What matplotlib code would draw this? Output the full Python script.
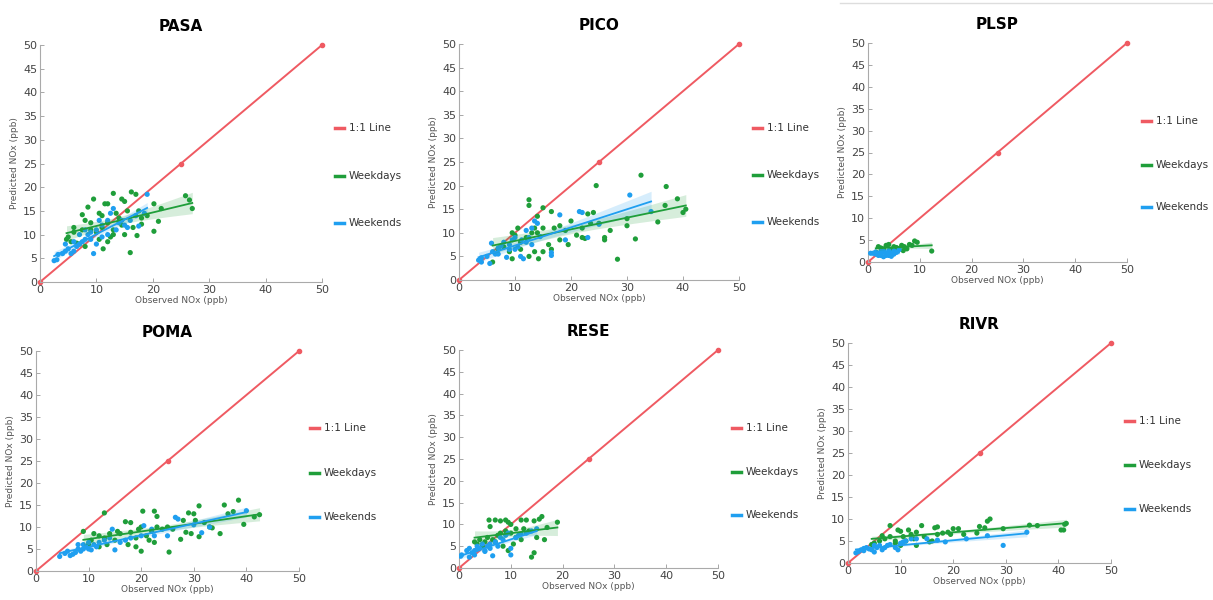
"""Observed vs predicted NOx at six sites, weekdays vs weekends."""

import matplotlib.pyplot as plt
import numpy as np
from matplotlib.lines import Line2D

RED = "#ef5a62"
GREEN = "#1f9e3a"
BLUE = "#1f9ff0"

sites = ["PASA", "PICO", "PLSP", "POMA", "RESE", "RIVR"]
legend_labels = ["1:1 Line", "Weekdays", "Weekends"]
ticks = [0, 10, 20, 30, 40, 50]
yticks = [0, 5, 10, 15, 20, 25, 30, 35, 40, 45, 50]
one_to_one = [0, 25, 50]

# (observed, predicted) pairs
pasa_weekdays = [
    (16.2, 19), (13, 18.7), (17, 18.5), (9.5, 17.5), (14.5, 17.5), (15, 17),
    (12, 16.5), (11.5, 16.5), (20.2, 16.5), (26.5, 17.3), (27, 15.5), (21.5, 15.5),
    (20.2, 10.7), (21, 12.8), (16, 6.2), (11.2, 7), (7.5, 14.2), (8.5, 15.8),
    (10.5, 14.5), (11, 14), (13.5, 14.5), (14, 13.5), (15.5, 15), (17.5, 15),
    (18, 13.5), (16.5, 11.5), (17.2, 9.8), (12.5, 9.5), (12, 8.5), (10.5, 9),
    (8, 7.5), (7, 8), (6, 10.5), (6, 11.5), (5, 9.5), (5.5, 8.5), (7.5, 11),
    (9, 11), (10, 10.5), (11, 11.5), (13, 11), (14.5, 12), (12, 12.5), (9, 12.5),
    (8, 13), (19, 14), (18, 12.2), (15, 10), (13, 10), (4.7, 9), (6.5, 8.2),
    (25.8, 18.2),
]
pasa_weekends = [
    (2.5, 4.5), (3, 4.7), (3.2, 5.8), (4, 6), (4.5, 6.5), (5, 7), (5.5, 6),
    (6, 6.5), (6.5, 7.5), (7, 8), (7.5, 8.5), (8, 9), (8.5, 10), (9, 9),
    (9.5, 6), (9, 10.5), (10, 11), (10.5, 13), (11, 12), (12, 13), (12.5, 14.5),
    (13, 15.5), (14, 12.5), (14.5, 13), (15, 12), (15.5, 11.5), (16, 13),
    (17, 14), (17.5, 11.8), (18.5, 14.5), (19, 18.5), (13.5, 11), (12, 10),
    (8, 11), (7, 10), (6, 8.5), (4.5, 8), (10, 8), (11, 9.5),
]
pico_weekdays = [
    (12.5, 17), (12.5, 15.8), (15, 15.3), (16.5, 14.5), (24.5, 20), (32.5, 22.2),
    (37, 19.8), (39, 17.2), (36.8, 15.8), (40.5, 15), (40, 14.3), (35.5, 12.3),
    (31.5, 8.7), (28.3, 4.4), (30, 13), (30, 11.5), (26, 9), (26, 8.5), (27, 10.5),
    (24, 14.3), (23, 14), (22, 11), (22, 9), (21, 9.5), (20, 12.5), (19, 10.5),
    (18, 11.5), (17, 11), (18, 8.5), (16.5, 6.5), (16, 7.5), (15, 6), (14.2, 4.5),
    (13.5, 6), (12.5, 5), (13, 10), (13.5, 11), (14, 10), (12, 9), (11, 8),
    (11, 6.5), (10.5, 11), (10, 9.5), (9.5, 10), (9, 6), (9.5, 4.5), (8, 7),
    (7, 6.5), (6, 3.8), (14, 13.5), (15, 11), (25, 12), (23.5, 12), (19.5, 7.5),
    (22.5, 8.8),
]
pico_weekends = [
    (3.5, 4.2), (4, 3.8), (4, 4.7), (5, 5), (5.5, 3.5), (5.8, 7.8), (6, 6),
    (6.5, 5.5), (7, 6.8), (7.5, 7.2), (8, 8), (8.5, 4.8), (9, 7.5), (9.5, 8.5),
    (10, 6.5), (10.5, 7), (11, 5), (11.5, 4.5), (11.2, 8.5), (12, 8), (12.5, 9),
    (13, 7.5), (13.5, 12.5), (14, 12), (14.5, 9.2), (16.5, 5.2), (16.5, 5.8),
    (18, 13.8), (19, 8.5), (21.5, 14.5), (22, 14.3), (23, 9), (25, 11.8),
    (30.5, 18), (34.3, 14.5), (10, 9), (12, 10.5), (13, 11), (9, 6.5), (7, 5.5),
]
plsp_weekdays = [
    (12.3, 2.5), (9, 4.8), (9.5, 4.5), (8, 4), (7, 3.5), (6.5, 3.8), (6, 3),
    (4, 4), (3.5, 3.8), (2, 3.5), (2.5, 3.2), (5, 3.5), (4.5, 2.8), (7.5, 3),
    (8.5, 3.8), (5.5, 3.3), (3, 3), (1.5, 2.2), (6.8, 2.6),
]
plsp_weekends = [
    (0.5, 2), (1, 2), (1.5, 1.8), (2, 2), (2.5, 1.5), (3, 1.2), (3, 2.5),
    (3.5, 2), (4, 1.5), (4, 2.6), (4.5, 2), (5, 2.5), (5.5, 2.2), (6, 2.8),
    (2, 1.5), (3.5, 1.5), (4.5, 1.3), (1.5, 2.3), (5, 1.8), (2.5, 2.4),
]
poma_weekdays = [
    (9, 9), (13, 13.2), (20.3, 13.6), (22.5, 13.6), (23, 12.4), (18, 11),
    (17, 11.2), (24, 9.5), (25.3, 4.3), (20, 4.5), (19, 5.5), (17.5, 6), (15, 7),
    (14, 8.5), (13, 7.5), (12, 8), (11, 8.5), (10.5, 7), (12, 5.5), (16, 8.5),
    (18, 8.8), (19.5, 9.5), (20, 10), (21, 8), (21.5, 7), (22, 9), (22.5, 6.5),
    (27.5, 7.2), (28.5, 8.8), (29, 13.2), (30, 13), (29.5, 8.5), (31, 14.8),
    (31, 7.8), (32, 11), (33, 10), (33.5, 9.8), (35, 8.5), (35.8, 15), (36.5, 13),
    (37.5, 13.5), (38.5, 16.1), (39.5, 10.6), (41.5, 12.3), (42.5, 12.8),
    (26, 9.5), (23, 10), (15.5, 9), (13.5, 6), (10, 6), (19, 7.5), (25, 10),
    (28, 11.5), (30.3, 11.5),
]
poma_weekends = [
    (4.5, 3.3), (5.5, 4), (6, 4.5), (6.5, 3.5), (7, 3.8), (7.5, 4.2), (8, 5),
    (8.5, 4.5), (9, 6), (9.5, 5.5), (10, 5), (10, 6.5), (10.5, 4.8), (11, 6),
    (11.5, 5.5), (12, 6.5), (13, 7), (14, 7.5), (14.5, 9.5), (15, 4.8), (16, 6.5),
    (17, 7), (18, 7.5), (20, 8), (20.5, 10.3), (22, 9.5), (22.5, 8), (25, 8),
    (26.5, 12.2), (27, 11.8), (30, 10.5), (31.5, 8.7), (33, 10), (40, 13.7),
    (9, 5), (8, 6),
]
rese_weekdays = [
    (5.8, 11), (7, 11), (8, 10.8), (9, 11), (9.5, 10.5), (10, 10), (12, 11),
    (13, 11), (14.5, 10.8), (15.5, 11.2), (16, 11.8), (17, 9.3), (19, 10.5),
    (16.5, 6.5), (15, 7), (14.5, 3.5), (14, 2.5), (12, 6.5), (11, 7), (10, 8),
    (9, 8.5), (8, 8), (7.5, 7.5), (7, 6), (6, 9.5), (5.5, 7), (5, 6), (4, 6.5),
    (3.5, 5.5), (3, 6), (4.5, 5), (8.5, 5), (9.5, 4), (11, 9), (12.5, 9),
    (13.5, 8.5), (10.5, 5.5), (6.5, 6.5),
]
rese_weekends = [
    (0.3, 2.7), (0.5, 3), (1.5, 4), (2, 4.5), (2.5, 3.5), (3, 4), (3, 3),
    (3.5, 5), (4, 4.5), (4.5, 5.5), (5, 4), (5.5, 5), (6, 5.5), (6.5, 2.8),
    (7, 6), (7.5, 5), (8, 7), (8.5, 6.5), (9, 7.5), (9.5, 8), (10, 4.5), (10, 3),
    (11, 7), (11.5, 7.5), (12, 7.8), (13, 8), (14, 8.5), (15, 9), (2, 2.5),
    (5, 3.8), (3.5, 4.3), (6, 4.5),
]
rivr_weekdays = [
    (8, 8.5), (9.5, 7.5), (10, 7.2), (11.5, 7.5), (14, 8.5), (16.5, 8), (17, 8.2),
    (16, 5), (15.5, 4.8), (13, 4), (12, 6.5), (11, 5), (10, 4), (9, 5), (8, 6),
    (7, 5.5), (6, 5), (5, 4.5), (4.5, 4.2), (6.5, 6.2), (12.5, 5.5), (18, 6.8),
    (19, 7), (20, 7.8), (21, 7.8), (24.5, 6.8), (25, 8.3), (26.5, 9.5), (27, 10),
    (26, 8), (29.5, 7.8), (34.5, 8.6), (36, 8.5), (40.5, 7.5), (41, 7.5),
    (41.5, 9), (41.2, 8.8), (19.5, 6.5), (17, 6.5), (14.5, 6), (13, 7),
    (10.5, 6), (9, 4.5), (22, 6.5),
]
rivr_weekends = [
    (1.5, 2.3), (2, 2.6), (2.5, 3), (3, 2.8), (3.5, 3.5), (4, 3.2), (4.5, 3),
    (5, 2.5), (5.5, 3.5), (6, 4), (6.5, 3), (7, 3.5), (7.5, 4), (8, 4.2), (9, 3.5),
    (9.5, 3), (10, 4.5), (10.5, 4.8), (11, 5), (12, 5.5), (13, 5.5), (15, 5.5),
    (17, 5.2), (18.5, 4.8), (22.5, 5.5), (26.5, 6.2), (29.5, 4), (34, 7), (5, 4),
    (3, 3.3),
]

weekdays = [pasa_weekdays, pico_weekdays, plsp_weekdays,
            poma_weekdays, rese_weekdays, rivr_weekdays]
weekends = [pasa_weekends, pico_weekends, plsp_weekends,
            poma_weekends, rese_weekends, rivr_weekends]

# pixel boxes of each axes: (x at 0, x at 50, y at 0, y at 50)
_BOXES = [
    (40, 322, 282, 45), (459, 739, 280, 44), (868, 1127, 262, 43),
    (36, 299, 571, 351), (459, 718, 568, 350), (848, 1111, 563, 343),
]
# legend anchor: (handle left x, y of each entry) in pixels
_LEGENDS = [
    (335, [128, 176, 223]), (753, [128, 175, 222]), (1142, [121, 165, 207]),
    (310, [428, 473, 517]), (732, [428, 472, 515]), (1125, [421, 465, 509]),
]

W, H = 1213, 600


def fit_band(pts):
    x, y = np.array(pts, dtype=float).T
    slope, icpt = np.polyfit(x, y, 1)
    xs = np.linspace(x.min(), x.max(), 60)
    yhat = icpt + slope * xs
    n = len(x)
    resid = y - (icpt + slope * x)
    s = np.sqrt(np.sum(resid ** 2) / (n - 2))
    se = s * np.sqrt(1 / n + (xs - x.mean()) ** 2 / np.sum((x - x.mean()) ** 2))
    return xs, yhat, yhat - 1.96 * se, yhat + 1.96 * se


fig = plt.figure(figsize=(W / 100, H / 100), dpi=100)

for i, site in enumerate(sites):
    x0, x50, y0, y50 = _BOXES[i]
    ax = fig.add_axes([x0 / W, 1 - y0 / H, (x50 - x0) / W, (y0 - y50) / H])

    ax.plot(one_to_one, one_to_one, color=RED, lw=1.4, marker="o", ms=3,
            zorder=2, clip_on=False)

    for pts, color in ((weekdays[i], GREEN), (weekends[i], BLUE)):
        x, y = np.array(pts).T
        ax.scatter(x, y, s=14, color=color, edgecolors="none", zorder=3)

    for pts, color in ((weekdays[i], GREEN), (weekends[i], BLUE)):
        xs, yhat, lo, hi = fit_band(pts)
        ax.fill_between(xs, lo, hi, color=color, alpha=0.18, lw=0, zorder=4)
        ax.plot(xs, yhat, color=color, lw=1.3, zorder=5)

    ax.set_xlim(0, 50)
    ax.set_ylim(0, 50)
    ax.set_xticks(ticks)
    ax.set_yticks(yticks)
    ax.tick_params(direction="in", length=3, width=0.6, color="#999999",
                   labelsize=8, labelcolor="#444444", pad=2)
    for side in ("top", "right"):
        ax.spines[side].set_visible(False)
    for side in ("left", "bottom"):
        ax.spines[side].set_color("#aaaaaa")
        ax.spines[side].set_linewidth(0.8)
    ax.set_title(site, fontsize=11, fontweight="bold", pad=10)
    ax.set_xlabel("Observed NOx (ppb)", fontsize=6.5, color="#555555", labelpad=1)
    ax.set_ylabel("Predicted NOx (ppb)", fontsize=6.5, color="#555555", labelpad=3)

    lx, lys = _LEGENDS[i]
    for label, color, ly in zip(legend_labels, (RED, GREEN, BLUE), lys):
        fy = 1 - ly / H
        fig.add_artist(Line2D([lx / W, (lx + 9) / W], [fy, fy], color=color, lw=2.5))
        fig.text((lx + 14) / W, fy, label, fontsize=7.5, color="#333333", va="center")

# thin separator at the top right
fig.add_artist(Line2D([840 / W, 1], [1 - 3 / H, 1 - 3 / H], color="#dddddd", lw=1))

fig.savefig("out.png", dpi=100)
